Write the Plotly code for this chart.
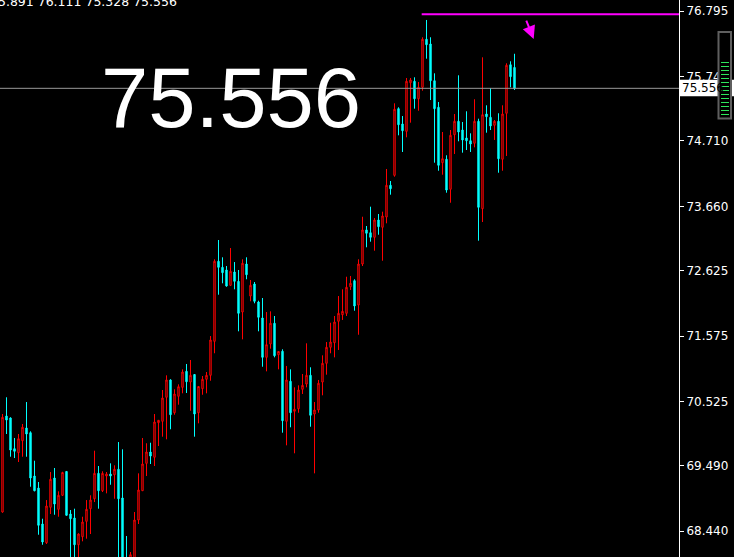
import plotly.graph_objects as go

# H4 bars, oldest first
opens = [68.749, 70.291, 70.259, 69.766, 69.702, 69.894, 70.098, 70.023, 69.327, 69.134,
         68.556, 68.255, 68.824, 69.295, 68.792, 69.017, 69.400, 68.717, 68.652, 68.223,
         68.352, 68.599, 68.802, 68.962, 69.370, 69.091, 69.327, 69.359, 69.348, 69.435,
         68.974, 67.849, 67.656, 67.977, 68.620, 69.091, 69.531, 69.713, 69.628, 70.184,
         70.206, 70.592, 70.870, 70.344, 70.608, 70.752, 71.009, 70.837, 70.958, 70.344,
         70.730, 70.881, 70.945, 71.491, 72.777, 72.680, 72.637, 72.391, 72.605, 72.455,
         71.962, 72.733, 72.219, 72.412, 72.123, 71.866, 71.234, 71.448, 71.781, 71.276,
         71.331, 70.206, 70.849, 70.367, 70.408, 70.720, 70.805, 70.945, 70.323, 70.388,
         70.837, 71.138, 71.395, 71.469, 71.813, 71.919, 71.941, 72.369, 72.465, 72.075,
         72.733, 73.280, 73.236, 73.162, 73.440, 73.323, 73.488, 73.998, 74.158, 75.229,
         74.983, 74.865, 75.646, 75.669, 75.389, 75.572, 76.344, 76.268, 75.678, 75.251,
         74.361, 74.416, 73.934, 74.811, 75.026, 74.886, 74.758, 74.714, 74.673, 75.026,
         73.622, 75.143, 75.090, 74.962, 75.026, 74.416, 75.155, 75.935, 75.891]
highs = [70.323, 70.592, 70.270, 69.938, 70.002, 70.163, 70.516, 70.045, 69.573, 69.231,
         68.641, 68.941, 69.391, 69.456, 69.081, 69.395, 69.407, 68.781, 68.802, 68.406,
         68.673, 68.941, 69.017, 69.734, 69.488, 69.403, 69.391, 69.531, 69.499, 69.873,
         69.756, 68.363, 68.106, 68.749, 69.370, 69.938, 69.853, 69.862, 70.323, 70.227,
         70.709, 70.945, 70.881, 70.720, 70.800, 71.041, 71.127, 71.191, 70.966, 70.773,
         70.934, 70.998, 71.576, 72.809, 73.119, 72.841, 72.701, 72.990, 72.765, 72.637,
         72.809, 72.841, 72.476, 72.444, 72.144, 72.187, 71.962, 71.973, 71.898, 71.331,
         71.363, 71.095, 71.041, 70.752, 70.784, 70.966, 71.459, 71.074, 70.516, 70.870,
         71.266, 71.480, 71.790, 71.898, 72.219, 72.327, 72.529, 72.541, 72.488, 72.809,
         73.493, 73.344, 73.654, 73.472, 73.537, 73.574, 74.260, 74.067, 75.315, 75.251,
         75.111, 75.722, 75.722, 75.733, 75.658, 76.376, 76.654, 76.376, 75.797, 75.336,
         74.854, 74.480, 74.886, 75.143, 75.765, 75.015, 75.187, 74.833, 75.380, 75.068,
         76.054, 75.283, 75.561, 75.047, 75.155, 75.283, 75.958, 75.990, 76.111]
lows = [68.738, 70.002, 69.637, 69.616, 69.552, 69.637, 69.637, 69.155, 69.081, 68.384,
        68.223, 68.235, 68.717, 68.705, 68.673, 69.006, 68.690, 67.897, 67.945, 67.977,
        68.278, 68.320, 68.395, 68.909, 68.802, 69.070, 69.049, 69.187, 68.962, 67.817,
        67.576, 67.463, 67.528, 67.881, 68.556, 69.086, 69.327, 69.520, 69.488, 69.809,
        69.959, 69.917, 70.078, 70.312, 70.473, 70.656, 70.661, 70.376, 69.959, 70.174,
        70.633, 70.656, 70.858, 71.299, 72.240, 72.423, 72.369, 72.380, 72.327, 71.652,
        71.523, 72.488, 72.134, 72.102, 71.652, 71.083, 71.009, 71.373, 71.234, 71.041,
        70.023, 69.820, 70.110, 69.692, 70.344, 70.645, 70.752, 70.119, 69.370, 70.344,
        70.624, 70.955, 71.299, 71.234, 71.352, 71.834, 71.898, 72.316, 71.983, 71.597,
        72.701, 73.002, 73.092, 72.947, 73.204, 72.786, 73.387, 73.847, 74.136, 74.801,
        74.533, 74.769, 75.004, 75.229, 75.196, 75.518, 76.032, 75.368, 74.361, 74.232,
        74.168, 73.879, 73.718, 74.501, 74.705, 74.522, 74.565, 74.533, 74.608, 73.108,
        73.408, 74.843, 74.886, 74.726, 74.200, 74.232, 74.469, 75.572, 75.529]
closes = [70.270, 70.227, 69.745, 69.724, 69.926, 70.110, 70.002, 69.295, 69.091, 68.535,
          68.267, 68.845, 69.274, 68.877, 69.017, 69.383, 68.696, 68.641, 68.223, 68.395,
          68.588, 68.792, 68.941, 69.370, 69.091, 69.370, 69.359, 69.327, 69.435, 68.962,
          67.736, 67.576, 68.063, 68.620, 69.102, 69.520, 69.713, 69.648, 70.195, 70.222,
          70.580, 70.870, 70.312, 70.645, 70.762, 70.998, 70.842, 70.945, 70.323, 70.765,
          70.881, 70.945, 71.512, 72.777, 72.680, 72.594, 72.380, 72.616, 72.455, 71.941,
          72.745, 72.561, 72.391, 72.134, 71.877, 71.234, 71.437, 71.781, 71.260, 71.328,
          70.216, 70.870, 70.344, 70.399, 70.709, 70.784, 70.945, 70.302, 70.388, 70.817,
          71.138, 71.395, 71.480, 71.801, 71.941, 71.973, 72.359, 72.423, 72.059, 72.733,
          73.280, 73.227, 73.162, 73.440, 73.333, 73.505, 73.998, 73.943, 75.219, 74.971,
          74.875, 75.669, 75.690, 75.389, 75.572, 76.344, 76.257, 75.678, 75.229, 74.319,
          74.425, 73.922, 74.801, 75.026, 74.854, 74.726, 74.714, 74.661, 75.026, 73.644,
          75.132, 75.100, 74.951, 75.026, 74.425, 75.143, 75.926, 75.743, 75.556]
bars = list(range(len(opens)))

price_ticks = [76.795, 75.745, 74.710, 73.660, 72.625, 71.575, 70.525, 69.490, 68.440]
tick_labels = ["%.3f" % v for v in price_ticks]

bid = 75.556
header = "75.891 76.111 75.328 75.556"
level_price = 76.745    # magenta horizontal line
level_start = 104.8     # bar where it starts
arrow_bar, arrow_price = 132.8, 76.348

y_top, y_bot = 76.975, 68.026
x_lo = -0.625
x_hi = x_lo + 679 / 4.0   # 4 px per bar

fig = go.Figure()
fig.add_trace(go.Candlestick(
    x=bars, open=opens, high=highs, low=lows, close=closes,
    increasing=dict(line=dict(color="#ff0000", width=1), fillcolor="#000000"),
    decreasing=dict(line=dict(color="#00ffff", width=1), fillcolor="#00ffff"),
    hoverinfo="skip", showlegend=False,
))

shapes = []
# bid line
shapes.append(dict(type="line", xref="paper", yref="y", x0=0, x1=1, y0=bid, y1=bid,
                   line=dict(color="#9a9a9a", width=1), layer="above"))
# magenta level
shapes.append(dict(type="line", xref="x", yref="y", x0=level_start, x1=x_hi,
                   y0=level_price, y1=level_price,
                   line=dict(color="#ff00ff", width=2), layer="above"))
# price label box on the axis
px_u = (y_top - y_bot) / 557.0
shapes.append(dict(type="rect", xref="paper", yref="y", x0=1 + 1 / 679, x1=734 / 679,
                   y0=bid - 8 * px_u, y1=bid + 8.5 * px_u,
                   fillcolor="#ffffff", line=dict(width=0), layer="above"))
# scroll widget in the top right corner
wx0, wx1 = 718.5 / 679, 731 / 679
shapes.append(dict(type="rect", xref="paper", yref="paper", x0=wx0, x1=wx1,
                   y0=1 - 118.5 / 557, y1=1 - 32 / 557,
                   fillcolor="#000000", line=dict(color="#5f5f5f", width=2), layer="above"))
for k in range(14):
    yy = 1 - (62.5 + 4 * k) / 557
    shapes.append(dict(type="line", xref="paper", yref="paper",
                       x0=721 / 679, x1=729 / 679, y0=yy, y1=yy,
                       line=dict(color="#2ee65a", width=1), layer="above"))

annotations = [
    dict(text="75.556", xref="paper", yref="paper", x=99 / 679, y=1 - 97.5 / 557,
         xanchor="left", yanchor="middle", showarrow=False,
         font=dict(family="Liberation Sans", size=85, color="#ffffff")),
    dict(text=header, xref="paper", yref="paper", x=179 / 679, y=1 - 1.5 / 557,
         xanchor="right", yanchor="middle", showarrow=False,
         font=dict(family="DejaVu Sans", size=12.5, color="#ffffff")),
    dict(text="%.3f" % bid, xref="paper", yref="y", x=1, y=bid, xanchor="left",
         yanchor="middle", xshift=1, showarrow=False,
         font=dict(family="DejaVu Sans", size=12, color="#000000")),
    dict(x=arrow_bar, y=arrow_price, xref="x", yref="y", ax=-8, ay=-20,
         showarrow=True, arrowhead=2, arrowsize=1.3, arrowwidth=2, arrowcolor="#ff00ff",
         text=""),
]

fig.update_layout(
    width=734, height=557,
    margin=dict(l=0, r=55, t=0, b=0, autoexpand=False),
    paper_bgcolor="#000000", plot_bgcolor="#000000",
    boxgap=0.5,
    shapes=shapes, annotations=annotations,
    xaxis=dict(visible=False, range=[x_lo, x_hi], rangeslider=dict(visible=False),
               fixedrange=True),
    yaxis=dict(side="right", range=[y_bot, y_top], tickvals=price_ticks,
               ticktext=tick_labels, showgrid=False, zeroline=False, automargin=False,
               showline=True, linecolor="#ffffff", linewidth=1,
               ticks="outside", ticklen=4, tickcolor="#ffffff",
               tickfont=dict(family="DejaVu Sans", size=12, color="#ffffff")),
)

# the page body has a default 8px margin; drop it so the chart sits at 0,0
fig.write_html("out.html", config={"displayModeBar": False},
               post_script="document.body.style.margin='0';document.body.style.overflow='hidden';")
